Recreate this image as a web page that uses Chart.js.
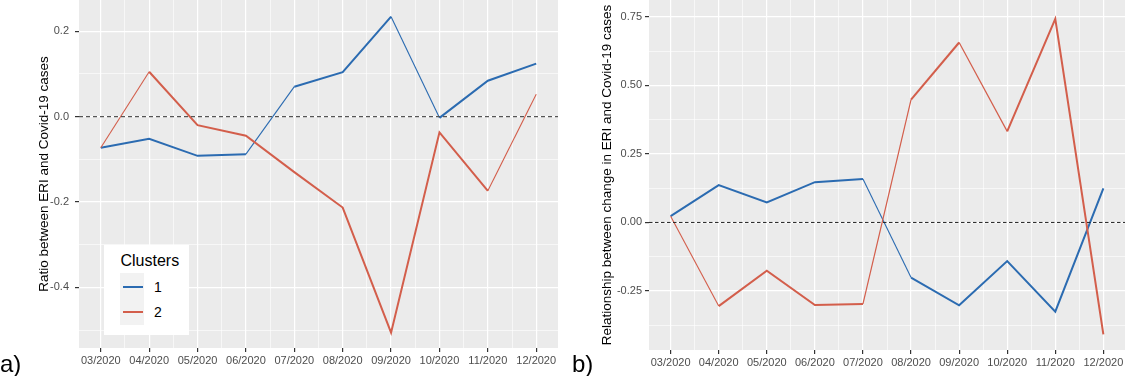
<!DOCTYPE html>
<html><head><meta charset="utf-8">
<script src="https://cdn.jsdelivr.net/npm/chart.js@4/dist/chart.umd.min.js"></script>
<style>
html,body{margin:0;padding:0;background:#fff;width:1125px;height:376px;overflow:hidden;font-family:"Liberation Sans",Arial,sans-serif}
#wa{position:absolute;left:0;top:0;width:560px;height:376px}
#wb{position:absolute;left:560px;top:0;width:565px;height:376px}
.panelTag{position:absolute;font-size:24px;line-height:24px;color:#000;white-space:nowrap}
#legend{position:absolute;left:104px;top:245px;width:85px;height:90px;background:#fff}
#legend .ttl{position:absolute;left:16.5px;top:8px;font-size:16px;line-height:16px;color:#000;white-space:nowrap}
#legend .keybg{position:absolute;left:16px;top:28px;width:24px;height:52px;background:#f2f2f2}
#legend .keyline{position:absolute;height:2px;width:20px;left:18.5px}
#legend .keylab{position:absolute;left:50px;font-size:14px;line-height:14px;color:#000}
</style>
</head><body>
<div id="wa"><canvas id="ca" width="560" height="376"></canvas></div>
<div id="wb"><canvas id="cb" width="565" height="376"></canvas></div>
<div class="panelTag" style="left:0px;top:352px">a)</div>
<div class="panelTag" style="left:572px;top:352px">b)</div>
<div id="legend"></div>
<script>
// ---- data ----
const months = ['03/2020','04/2020','05/2020','06/2020','07/2020','08/2020','09/2020','10/2020','11/2020','12/2020'];
const clusterNames = ['1','2'];
const ratioCluster1 = [-0.073,-0.052,-0.092,-0.088,0.070,0.104,0.234,-0.003,0.084,0.124];
const ratioCluster2 = [-0.073,0.105,-0.020,-0.045,-0.130,-0.213,-0.506,-0.037,-0.174,0.052];
const relCluster1 = [0.023,0.136,0.073,0.147,0.158,-0.201,-0.302,-0.141,-0.325,0.124];
const relCluster2 = [0.023,-0.305,-0.176,-0.301,-0.297,0.448,0.656,0.332,0.742,-0.408];
const titleA = 'Ratio between ERI and Covid-19 cases';
const titleB = 'Relationship between change in ERI and Covid-19 cases';

// ---- styles ----
const clusterColors = ['#2b6bb1','#d35e4b'];
const segWidthA1 = [2,2,2,1.1,2,2,1.1,2,2];
const segWidthA2 = [1.1,2,2,2,2,2,2,2,1.1];
const segWidthB1 = [2,2,2,2,1.1,2,2,2,2];
const segWidthB2 = [1.1,2,2,2,1.2,2,1.2,2,2];
const FONT = '"Liberation Sans", Arial, sans-serif';

const bgPlugin = {id:'panelBg', beforeDraw(chart){
  const {ctx, chartArea:a} = chart;
  ctx.save(); ctx.fillStyle = '#ebebeb';
  ctx.fillRect(a.left, a.top, a.right - a.left, a.bottom - a.top);
  ctx.restore();
}};
const zeroPlugin = {id:'zeroLine', afterDatasetsDraw(chart, args, opts){
  const {ctx, chartArea:a, scales} = chart;
  const py = scales.y.getPixelForValue(0);
  ctx.save();
  ctx.setLineDash(opts.dash); ctx.strokeStyle = opts.color; ctx.lineWidth = opts.width;
  ctx.beginPath(); ctx.moveTo(a.left, py); ctx.lineTo(a.right, py); ctx.stroke();
  ctx.restore();
}};

const isInt = v => Math.abs(v - Math.round(v)) < 1e-9;

function buildChart(id, s1, s2, w1, w2, cfg){
  const toXY = s => s.map((v,i)=>({x:i, y:v}));
  const yMajor = v => isInt(v / (cfg.step * cfg.majorEvery));
  return new Chart(document.getElementById(id), {
    type:'line',
    data:{datasets:[
      {label:clusterNames[1], data:toXY(s2), borderColor:clusterColors[1], borderWidth:2, pointRadius:0, tension:0, fill:false,
       segment:{borderWidth: c => w2[c.p0DataIndex]}},
      {label:clusterNames[0], data:toXY(s1), borderColor:clusterColors[0], borderWidth:2, pointRadius:0, tension:0, fill:false,
       segment:{borderWidth: c => w1[c.p0DataIndex]}}
    ]},
    options:{
      responsive:false, animation:false, devicePixelRatio:1,
      layout:{padding:{left:0, top:0, right:cfg.padRight, bottom:0}},
      plugins:{legend:{display:false}, tooltip:{enabled:false},
        zeroLine:{dash:cfg.dash, color:cfg.zeroColor, width:cfg.zeroWidth}},
      scales:{
        x:{type:'linear', position:'bottom', min:-0.45, max:months.length - 1 + 0.45,
          afterBuildTicks: s => { const t=[]; for(let k=0;k<=(months.length-1)*2;k++) t.push({value:k/2}); s.ticks=t; },
          afterFit: s => { s.height = cfg.xH; s.paddingLeft = 0; s.paddingRight = 0; },
          ticks:{autoSkip:false, maxRotation:0, minRotation:0, padding:2, color:'#4d4d4d',
            font:{family:FONT, size:11}, callback: v => isInt(v) ? months[Math.round(v)] : ''},
          grid:{color:'#ffffff', lineWidth: c => (c.tick && isInt(c.tick.value)) ? 1.2 : 0.6,
            tickColor: c => (c.tick && isInt(c.tick.value)) ? '#333333' : 'rgba(0,0,0,0)',
            tickLength:4, drawTicks:true},
          border:{display:false}
        },
        y:{type:'linear', position:'left', min:cfg.yMin, max:cfg.yMax,
          afterBuildTicks: s => { const t=[]; for(let k=Math.ceil(cfg.yMin/cfg.step-1e-9); k<=Math.floor(cfg.yMax/cfg.step+1e-9); k++) t.push({value:k*cfg.step}); s.ticks=t; },
          afterFit: s => { s.width = cfg.yW; s.paddingTop = 0; s.paddingBottom = 0; },
          ticks:{autoSkip:false, padding:cfg.yPad, color:'#4d4d4d', font:{family:FONT, size:11},
            callback: v => yMajor(v) ? (Math.abs(v) < 1e-9 ? 0 : v).toFixed(cfg.dec) : ''},
          grid:{color:'#ffffff', lineWidth: c => (c.tick && yMajor(c.tick.value)) ? 1.2 : 0.6,
            tickColor: c => (c.tick && yMajor(c.tick.value)) ? '#333333' : 'rgba(0,0,0,0)',
            tickLength:4, drawTicks:true},
          border:{display:false},
          title:{display:true, text:cfg.title, color:'#000000', font:{family:FONT, size:13.5},
            padding:{top:cfg.titlePad, bottom:0}}
        }
      }
    },
    plugins:[bgPlugin, zeroPlugin]
  });
}

buildChart('ca', ratioCluster1, ratioCluster2, segWidthA1, segWidthA2, {
  yMin:-0.542, yMax:0.273, step:0.1, majorEvery:2, dec:1, yW:79, xH:28, padRight:2, yPad:6,
  titlePad:35.9, title:titleA, dash:[4,3], zeroColor:'#555555', zeroWidth:1.3});
buildChart('cb', relCluster1, relCluster2, segWidthB1, segWidthB2, {
  yMin:-0.465, yMax:0.811, step:0.125, majorEvery:2, dec:2, yW:89, xH:26, padRight:0, yPad:3,
  titlePad:39.4, title:titleB, dash:[3.5,2.5], zeroColor:'#222222', zeroWidth:1});

// legend
(function(){
  const lg = document.getElementById('legend');
  let h = '<div class="ttl">Clusters</div><div class="keybg"></div>';
  clusterNames.forEach((n,i)=>{
    const cy = 41.7 + i*25;
    h += '<div class="keyline" style="top:'+(cy-1)+'px;background:'+clusterColors[i]+'"></div>';
    h += '<div class="keylab" style="top:'+(cy-7)+'px">'+n+'</div>';
  });
  lg.innerHTML = h;
})();
</script>
</body></html>
